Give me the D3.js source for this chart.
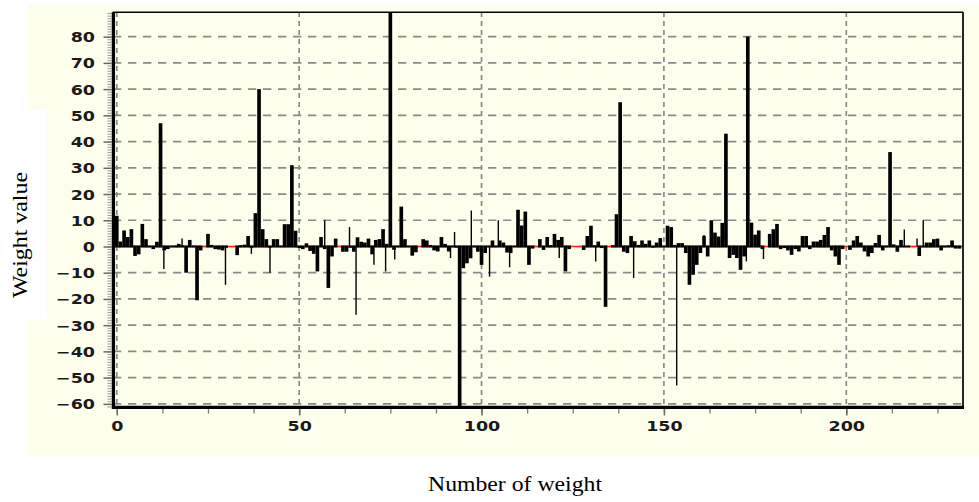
<!DOCTYPE html>
<html>
<head>
<meta charset="utf-8">
<script src="https://cdn.jsdelivr.net/npm/d3@7"></script>
<style>
  html, body { margin: 0; padding: 0; background: #ffffff; }
  svg { display: block; }
</style>
</head>
<body>
<svg id="chart" width="979" height="502"></svg>
<script>
// Weight values, one per weight number (0 .. 231)
const weightValues = [
  11.7, 1.9, 6.1, 3.6, 6.6, -3.6, -3.0, 8.6, 2.8, -0.3,
  -1.0, 1.8, 47, -1.5, -1.0, 0.3, 0.4, 1.0, 0.5, -10,
  2.5, 0.3, -20.5, -1.5, 0, 4.8, 0.6, -1.0, -1.2, -1.5,
  -0.5, 0, 0, -3.3, 0.5, 0.7, 4.0, -0.5, 12.7, 60,
  6.6, 2.8, -0.5, 2.8, 2.8, 0.3, 8.5, 8.5, 31, 6,
  -0.6, -1.0, 1.2, -1.7, -2.8, -9.5, 3.6, -1.0, -15.8, -3.8,
  3.0, 0, -2.0, -2.0, -0.5, -2.0, 3.5, 1.8, 1.5, 3.0,
  -3.0, 2.5, 2.8, 6.6, 1.0, 92, -1.3, -0.3, 15.2, 2.8,
  0.3, -3.5, -2.2, 0, 2.8, 2.3, 0.6, -1.5, -1.9, 3.6,
  1.0, -1.9, 0.3, -0.5, -61.5, -8.3, -6.4, -4.5, -0.3, -2.0,
  -7.0, -2.5, -0.3, 2.3, 0.3, 2.3, 1.5, -2.3, -2.5, 0.3,
  14, 8.0, 13.3, -7.0, -0.8, 0, 2.8, -1.3, 3.6, 0.5,
  4.8, 2.5, 3.6, -9.5, -1.0, 0, 0, 0, -1.3, 4.0,
  7.9, 0.5, 1.9, -0.6, -23, 0, 0.5, 12.3, 55, -2.0,
  -2.5, 4.0, 2.0, 0.6, 2.3, 1.0, 2.3, -0.5, 1.5, 3.2,
  -0.3, 7.9, 7.4, 0.6, 1.3, 1.3, -2.5, -14.6, -10.8, -7.0,
  -2.5, 4.0, -3.8, 10, 5.3, 3.8, 9.0, 43, -4.4, -3.2,
  -4.4, -8.9, -3.8, 80, 9.1, 4.5, 6.1, -1.0, 0, 4.8,
  6.6, 8.6, -1.0, -0.6, -1.5, -3.2, -1.0, -1.9, 4.0, 4.0,
  -1.0, 1.9, 1.9, 2.5, 4.4, 7.4, -1.5, -3.8, -7.0, -1.0,
  0, -1.3, 2.3, 4.0, 1.5, -1.9, -3.8, -2.5, 1.3, 4.4,
  -1.5, -0.4, 36, 0.8, -2.0, 2.5, 0.3, 0.3, 0, 0,
  -3.6, 0.3, 1.5, 1.5, 2.8, 3.0, -1.5, -0.3, 0.5, 2.3,
  -0.8, -0.8
];

// Isolated single-sample spikes drawn as thin needles
const spikePos = [12.9, 17.9, 29.8, 36.9, 42.0, 57.0, 63.8, 65.6, 70.5, 73.7,
                  76.2, 91.5, 92.6, 97.2, 102.2, 104.6, 107.7, 121.3, 131.3, 141.7,
                  153.5, 161.0, 172.6, 177.3, 215.9, 219.4, 221.1];
const spikeVal = [-8.6, 3.0, -14.6, -2.8, -10, 10, 7.4, -26, -7, -9.5,
                  -5, -4.4, 5.5, 13.7, -11.5, 10, -7.9, -4.4, -5.7, -12,
                  -53, 4.4, -5.7, -4.8, 6.5, 3.0, 10];

const xTickValues = [0, 50, 100, 150, 200];
const yTickValues = [-60, -50, -40, -30, -20, -10, 0, 10, 20, 30, 40, 50, 60, 70, 80];
const xAxisTitle = "Number of weight";
const yAxisTitle = "Weight value";

const svg = d3.select("#chart");
const plot = { left: 113, right: 963, top: 12, bottom: 407 };

const x = d3.scaleLinear().domain([-1.04, 232]).range([plot.left, plot.right]);
const y = d3.scaleLinear().domain([-61.2, 89.4]).range([plot.bottom, plot.top]);

const panelFill = "#fefeec";
const labelFont = "'DejaVu Sans', sans-serif";
const labelStretch = 1.25;

// Background panels
svg.append("rect").attr("x", 28).attr("y", 5).attr("width", 951).attr("height", 451).attr("fill", panelFill);
svg.append("rect").attr("x", 0).attr("y", 110).attr("width", 47).attr("height", 209).attr("fill", "#ffffff");

// Dashed grid
const grid = svg.append("g");
grid.selectAll("line.h").data(yTickValues).join("line")
  .attr("x1", plot.left).attr("x2", plot.right)
  .attr("y1", d => y(d)).attr("y2", d => y(d))
  .attr("stroke", "#8a8a8a").attr("stroke-width", 1.7)
  .attr("stroke-dasharray", "8.3,6.7");
grid.selectAll("line.v").data(xTickValues).join("line")
  .attr("x1", d => x(d)).attr("x2", d => x(d))
  .attr("y1", plot.top).attr("y2", plot.bottom)
  .attr("stroke", "#8a8a8a").attr("stroke-width", 1.7)
  .attr("stroke-dasharray", "5,4");

// Clip for the data marks
svg.append("clipPath").attr("id", "plotClip")
  .append("rect").attr("x", plot.left).attr("y", plot.top)
  .attr("width", plot.right - plot.left).attr("height", plot.bottom - plot.top);

const marks = svg.append("g").attr("clip-path", "url(#plotClip)");
const y0 = y(0);

// Zero baseline (shows red where a weight is exactly zero)
marks.append("line")
  .attr("x1", plot.left).attr("x2", plot.right)
  .attr("y1", y0).attr("y2", y0)
  .attr("stroke", "#ff2020").attr("stroke-width", 1.6);

// Weight bars, one unit wide, centred on each weight number
const bars = weightValues.map((v, i) => ({ i, v })).filter(d => d.v !== 0);
marks.selectAll("rect.bar").data(bars).join("rect")
  .attr("class", "bar")
  .attr("x", d => x(d.i - 0.5))
  .attr("width", d => x(d.i + 0.5) - x(d.i - 0.5))
  .attr("y", d => Math.min(y(d.v), y0 - 1))
  .attr("height", d => Math.max(y(d.v), y0 + 1) - Math.min(y(d.v), y0 - 1))
  .attr("fill", "#000");

// Thin needles
marks.selectAll("line.spike").data(spikePos.map((p, k) => ({ p, v: spikeVal[k] }))).join("line")
  .attr("x1", d => x(d.p)).attr("x2", d => x(d.p))
  .attr("y1", y0).attr("y2", d => y(d.v))
  .attr("stroke", "#000").attr("stroke-width", 1.4);

// Y axis: minor ticks every unit, major ticks with labels every ten
const yMinor = d3.range(-61, 90, 1);
svg.append("g").attr("transform", `translate(${plot.left - 1.5},0)`)
  .call(d3.axisLeft(y).tickValues(yMinor).tickSize(4).tickFormat(""))
  .call(g => g.select(".domain").remove())
  .call(g => g.selectAll("line").attr("stroke", "#9a9a9a").attr("stroke-width", 1));

const yAxisG = svg.append("g").attr("transform", `translate(${plot.left - 1.5},0)`)
  .call(d3.axisLeft(y).tickValues(yTickValues).tickSize(8).tickPadding(0))
  .call(g => g.select(".domain").remove());
yAxisG.selectAll("line").attr("stroke", "#6a6a6a").attr("stroke-width", 1.5);
yAxisG.selectAll("text")
  .attr("x", -16.5 / labelStretch)
  .attr("dy", "0.36em")
  .attr("transform", `scale(${labelStretch},1)`)
  .attr("font-family", labelFont).attr("font-size", 14).attr("font-weight", "bold").attr("fill", "#1a1a1a");

// X axis: minor ticks every 12.5, labelled ticks every 50
const xMinor = d3.range(0, 232, 12.5);
svg.append("g").attr("transform", `translate(0,${plot.bottom + 1.5})`)
  .call(d3.axisBottom(x).tickValues(xMinor).tickSize(5).tickFormat(""))
  .call(g => g.select(".domain").remove())
  .call(g => g.selectAll("line").attr("stroke", "#7a7a7a").attr("stroke-width", 1.3));

const xAxisG = svg.append("g").attr("transform", `translate(0,${plot.bottom + 1.5})`)
  .call(d3.axisBottom(x).tickValues(xTickValues).tickSize(7))
  .call(g => g.select(".domain").remove());
xAxisG.selectAll("line").attr("stroke", "#6a6a6a").attr("stroke-width", 1.5);
xAxisG.selectAll("text")
  .attr("y", 23).attr("dy", 0)
  .attr("transform", `scale(${labelStretch},1)`)
  .attr("font-family", labelFont).attr("font-size", 14).attr("font-weight", "bold").attr("fill", "#1a1a1a");

// Frame: heavy left and bottom axes, light top and right edges
const frame = svg.append("g").attr("stroke", "#000");
frame.append("line").attr("x1", plot.left + 0.4).attr("x2", plot.left + 0.4)
  .attr("y1", plot.top).attr("y2", plot.bottom + 2).attr("stroke-width", 3.3);
frame.append("line").attr("x1", plot.left - 1).attr("x2", plot.right + 1)
  .attr("y1", plot.bottom + 0.3).attr("y2", plot.bottom + 0.3).attr("stroke-width", 3.3);
frame.append("line").attr("x1", plot.left).attr("x2", plot.right)
  .attr("y1", plot.top + 0.3).attr("y2", plot.top + 0.3).attr("stroke-width", 1.6);
frame.append("line").attr("x1", plot.right).attr("x2", plot.right)
  .attr("y1", plot.top).attr("y2", plot.bottom).attr("stroke-width", 1.7);

// Axis titles
svg.append("text")
  .attr("x", 515).attr("y", 491)
  .attr("text-anchor", "middle")
  .attr("font-family", "'Liberation Serif', 'Times New Roman', serif")
  .attr("font-size", 22)
  .attr("textLength", 174).attr("lengthAdjust", "spacingAndGlyphs")
  .attr("fill", "#000")
  .text(xAxisTitle);

svg.append("text")
  .attr("transform", "translate(27,235) rotate(-90)")
  .attr("text-anchor", "middle")
  .attr("font-family", "'Liberation Serif', 'Times New Roman', serif")
  .attr("font-size", 22)
  .attr("textLength", 126).attr("lengthAdjust", "spacingAndGlyphs")
  .attr("fill", "#000")
  .text(yAxisTitle);
</script>
</body>
</html>
